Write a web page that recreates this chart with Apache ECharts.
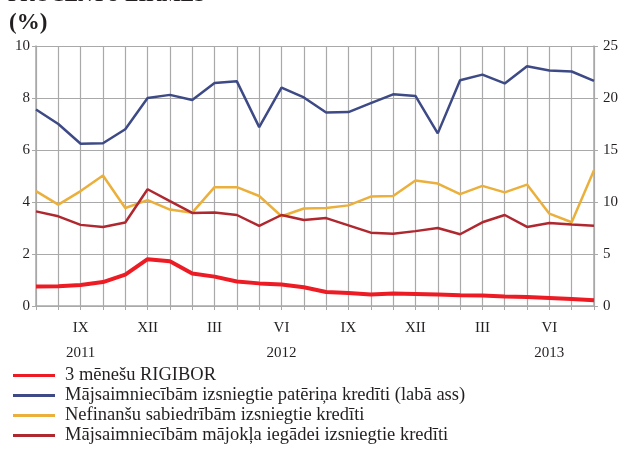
<!DOCTYPE html>
<html>
<head>
<meta charset="utf-8">
<script src="https://cdn.jsdelivr.net/npm/echarts@6/dist/echarts.min.js"></script>
<style>
  html, body { margin: 0; padding: 0; background: #fff; }
  #chart { width: 623px; height: 453px; }
</style>
</head>
<body>
<div id="chart"></div>
<script>
// mēneši: 2011. gada jūlijs – 2013. gada augusts
const months = ['VII', 'VIII', 'IX', 'X', 'XI', 'XII', 'I', 'II', 'III', 'IV', 'V', 'VI', 'VII',
  'VIII', 'IX', 'X', 'XI', 'XII', 'I', 'II', 'III', 'IV', 'V', 'VI', 'VII', 'VIII']
const shownMonths = ['IX', 'XII', 'III', 'VI']
// gada uzraksti zem konkrētiem mēnešiem
const yearLabels = { 2: '2011', 11: '2012', 23: '2013' }

const seriesNames = [
  '3 mēnešu RIGIBOR',
  'Mājsaimniecībām izsniegtie patēriņa kredīti (labā ass)',
  'Nefinanšu sabiedrībām izsniegtie kredīti',
  'Mājsaimniecībām mājokļa iegādei izsniegtie kredīti'
]

const rigibor = [0.75, 0.76, 0.81, 0.92, 1.21, 1.80, 1.72, 1.25, 1.13, 0.94, 0.87, 0.83, 0.72,
  0.54, 0.50, 0.44, 0.48, 0.46, 0.44, 0.41, 0.40, 0.37, 0.35, 0.31, 0.27, 0.22]
const consumer = [18.9, 17.5, 15.6, 15.65, 17.0, 20.0, 20.3, 19.8, 21.45, 21.6, 17.2, 21.0, 20.05,
  18.6, 18.65, 19.5, 20.35, 20.2, 16.6, 21.7, 22.25, 21.4, 23.05, 22.65, 22.55, 21.65]
const corporate = [4.42, 3.90, 4.42, 5.02, 3.77, 4.07, 3.71, 3.59, 4.57, 4.57, 4.23, 3.45, 3.75,
  3.77, 3.87, 4.21, 4.23, 4.83, 4.71, 4.30, 4.62, 4.37, 4.67, 3.55, 3.22, 5.22]
const mortgage = [3.64, 3.45, 3.12, 3.04, 3.21, 4.49, 4.03, 3.58, 3.60, 3.50, 3.08, 3.50, 3.31,
  3.38, 3.10, 2.82, 2.78, 2.88, 3.00, 2.76, 3.22, 3.50, 3.04, 3.19, 3.13, 3.09]

const font = 'Liberation Serif'
const gridColor = '#a9a9a9'

let myCharts = echarts.init(document.getElementById('chart'))

myCharts.setOption({
  animation: false,
  textStyle: { fontFamily: font },
  graphic: [
    {
      type: 'text', left: 8, top: -14,
      style: { text: 'PROCENTU LIKMES', font: 'bold 20px "Liberation Serif"', fill: '#231f20' }
    },
    {
      type: 'text', left: 9, top: 12,
      style: { text: '(%)', font: 'bold 23px "Liberation Serif"', fill: '#231f20' }
    }
  ],
  grid: { left: 36, right: 29, top: 46, bottom: 147 },
  legend: {
    orient: 'vertical',
    left: 13,
    top: 366,
    height: 90,
    padding: 0,
    itemWidth: 42,
    itemHeight: 3,
    itemGap: 1,
    icon: 'rect',
    data: seriesNames,
    textStyle: { fontFamily: font, fontSize: 18.5, color: '#231f20', padding: [0, 0, 0, 5] }
  },
  xAxis: [
    {
      type: 'category',
      data: months,
      boundaryGap: false,
      axisLine: { lineStyle: { color: gridColor, width: 1.5 } },
      axisTick: { show: true, interval: 0, length: 4, lineStyle: { color: gridColor } },
      splitLine: { show: true, interval: 0, lineStyle: { color: gridColor, width: 1.2 } },
      axisLabel: {
        interval: 0,
        margin: 10,
        formatter: (v, i) => {
          if (!shownMonths.includes(v)) return ''
          return yearLabels[i] ? v + '\n' + yearLabels[i] : v
        },
        fontFamily: font,
        fontSize: 15,
        lineHeight: 25,
        color: '#231f20',
        verticalAlign: 'top'
      }
    },
    {
      type: 'category',
      data: months,
      boundaryGap: false,
      position: 'top',
      axisLine: { show: false },
      axisTick: { show: true, interval: 0, length: 3, lineStyle: { color: gridColor } },
      axisLabel: { show: false }
    }
  ],
  yAxis: [
    {
      type: 'value',
      min: 0,
      max: 10,
      interval: 2,
      axisLine: { show: true, lineStyle: { color: gridColor, width: 1.5 } },
      axisTick: { show: true, length: 4, lineStyle: { color: gridColor } },
      splitLine: { lineStyle: { color: gridColor, width: 1.2 } },
      axisLabel: { fontFamily: font, fontSize: 15, color: '#231f20', margin: 6 }
    },
    {
      type: 'value',
      min: 0,
      max: 25,
      interval: 5,
      position: 'right',
      axisLine: { show: true, lineStyle: { color: gridColor, width: 1.5 } },
      axisTick: { show: true, length: 4, lineStyle: { color: gridColor } },
      splitLine: { show: false },
      axisLabel: { fontFamily: font, fontSize: 15, color: '#231f20', margin: 9 }
    }
  ],
  series: [
    {
      name: seriesNames[2], type: 'line', data: corporate, yAxisIndex: 0,
      symbol: 'none', color: '#ebb03c', lineStyle: { width: 2.5 }, z: 3
    },
    {
      name: seriesNames[3], type: 'line', data: mortgage, yAxisIndex: 0,
      symbol: 'none', color: '#b0282f', lineStyle: { width: 2.5 }, z: 4
    },
    {
      name: seriesNames[1], type: 'line', data: consumer, yAxisIndex: 1,
      symbol: 'none', color: '#3d4a85', lineStyle: { width: 2.5 }, z: 5
    },
    {
      name: seriesNames[0], type: 'line', data: rigibor, yAxisIndex: 0,
      symbol: 'none', color: '#ed1c24', lineStyle: { width: 4 }, z: 6
    }
  ]
})
</script>
</body>
</html>
